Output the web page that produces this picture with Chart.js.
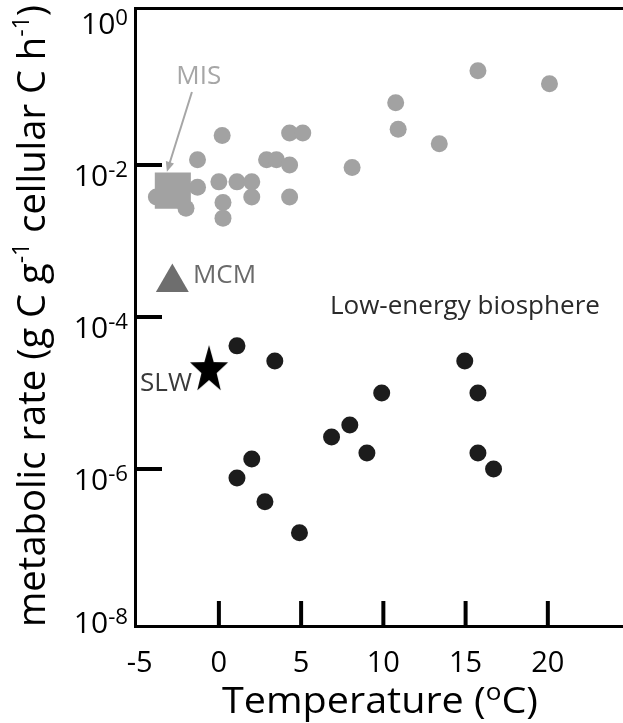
<!DOCTYPE html>
<html>
<head>
<meta charset="utf-8">
<script src="https://cdn.jsdelivr.net/npm/chart.js@4.4.0/dist/chart.umd.min.js"></script>
<style>
  html, body { margin: 0; padding: 0; background: #fff; }
</style>
</head>
<body>
<canvas id="chart" width="623" height="723"></canvas>
<script>
// Temperature (oC) vs metabolic rate (g C g-1 cellular C h-1)
const grayTemp = [0.2, 4.3, 5.1, -1.3, 2.9, 3.5, 4.3, -1.3, -3.8, -2.0, 0.0, 1.1, 2.0, 2.0, 4.3, 0.25, 0.25, 15.75, 20.1, 10.75, 10.9, 13.4, 8.1];
const grayRate = [0.0245, 0.0263, 0.0263, 0.0117, 0.0117, 0.0117, 0.01, 0.0051, 0.0038, 0.0027, 0.006, 0.006, 0.006, 0.0038, 0.0038, 0.0032, 0.002, 0.174, 0.117, 0.066, 0.0295, 0.019, 0.0093];

const blackTemp = [1.1, 3.4, 2.0, 1.1, 2.8, 4.9, 14.95, 9.9, 15.75, 7.96, 6.85, 9.0, 15.75, 16.7];
const blackRate = [4.17e-5, 2.63e-5, 1.35e-6, 7.6e-7, 3.7e-7, 1.45e-7, 2.63e-5, 1e-5, 1e-5, 3.8e-6, 2.63e-6, 1.62e-6, 1.62e-6, 1e-6];

const misTemp = [-2.8];
const misRate = [0.0046];
const mcmTemp = [-2.83];
const mcmRate = [2.84e-4];
const slwTemp = [-0.6];
const slwRate = [2.0e-5];

const xTickLabels = [-5, 0, 5, 10, 15, 20];
const xTickMarks = [0, 5, 10, 15, 20];
const yTickExps = [0, -2, -4, -6, -8];
const yTickMarks = [1e-2, 1e-4, 1e-6];

const FONT = '"Open Sans", "DejaVu Sans", sans-serif';

function pts(xs, ys) {
    return xs.map((x, i) => ({ x: x, y: ys[i] }));
}

// filled five-point star used as the SLW marker
function makeStar(r, sx) {
    const c = document.createElement('canvas');
    c.width = Math.ceil(2 * r * sx) + 2;
    c.height = Math.ceil(2 * r) + 2;
    const g = c.getContext('2d');
    g.translate(c.width / 2, c.height / 2);
    g.beginPath();
    for (let i = 0; i < 10; i++) {
        const a = -Math.PI / 2 + i * Math.PI / 5;
        const rr = i % 2 === 0 ? r : r * 0.4;
        g.lineTo(Math.cos(a) * rr * sx, Math.sin(a) * rr);
    }
    g.closePath();
    g.fillStyle = '#000';
    g.fill();
    return c;
}

// text with superscript parts, parts = [[text, isSup], ...]
function drawRich(ctx, parts, x, y, size, align, targetW, supScale, raise) {
    supScale = supScale || 0.68;
    raise = raise || 0.36;
    let w = 0;
    parts.forEach(p => {
        ctx.font = (p[1] ? size * supScale : size) + 'px ' + FONT;
        w += ctx.measureText(p[0]).width;
    });
    const sx = targetW ? targetW / w : 1;
    ctx.save();
    ctx.translate(x, y);
    ctx.scale(sx, 1);
    let cx = align === 'right' ? -w : (align === 'center' ? -w / 2 : 0);
    ctx.textAlign = 'left';
    ctx.textBaseline = 'alphabetic';
    parts.forEach(p => {
        ctx.font = (p[1] ? size * supScale : size) + 'px ' + FONT;
        ctx.fillText(p[0], cx, p[1] ? -size * raise : 0);
        cx += ctx.measureText(p[0]).width;
    });
    ctx.restore();
}

const decorations = {
    id: 'decorations',
    afterDraw(chart) {
        const ctx = chart.ctx;
        const xs = chart.scales.x, ys = chart.scales.y;
        const area = chart.chartArea;
        ctx.save();

        // top frame line
        ctx.strokeStyle = '#000';
        ctx.lineWidth = 3;
        ctx.beginPath();
        ctx.moveTo(area.left, area.top + 0.5);
        ctx.lineTo(area.right, area.top + 0.5);
        ctx.stroke();

        // inward tick marks
        ctx.lineWidth = 4;
        yTickMarks.forEach(v => {
            const py = ys.getPixelForValue(v);
            ctx.beginPath();
            ctx.moveTo(area.left, py);
            ctx.lineTo(area.left + 27, py);
            ctx.stroke();
        });
        xTickMarks.forEach(v => {
            const px = xs.getPixelForValue(v);
            ctx.beginPath();
            ctx.moveTo(px, area.bottom);
            ctx.lineTo(px, area.bottom - 25);
            ctx.stroke();
        });

        // y tick labels 10^n
        ctx.fillStyle = '#000';
        yTickExps.forEach(e => {
            const py = ys.getPixelForValue(Math.pow(10, e));
            const base = Math.min(py + 21, area.bottom + 7);
            drawRich(ctx, [['10', false], [e === 0 ? '0' : '-' + (-e), true]], area.left - 7, base, 30, 'right', null, 0.74, 0.3);
        });

        // x tick labels
        ctx.font = '29px ' + FONT;
        ctx.textAlign = 'center';
        ctx.textBaseline = 'alphabetic';
        xTickLabels.forEach(v => {
            const px = xs.getPixelForValue(v);
            ctx.fillText(String(v), px + (v === -5 ? 3 : 0), area.bottom + 46);
        });

        // axis titles
        drawRich(ctx, [['Temperature (', false], ['o', true], ['C)', false]],
            380, area.bottom + 87, 36, 'center', 316, 0.66, 0.36);
        ctx.save();
        ctx.translate(45, 316);
        ctx.rotate(-Math.PI / 2);
        drawRich(ctx, [['metabolic rate (g C g', false], ['-1', true], [' cellular C h', false], ['-1', true], [')', false]],
            0, 0, 38, 'center', 622, 0.6, 0.42);
        ctx.restore();

        // annotations
        ctx.font = '26px ' + FONT;
        ctx.textAlign = 'center';
        ctx.textBaseline = 'middle';
        ctx.fillStyle = '#a6a6a6';
        ctx.fillText('MIS', xs.getPixelForValue(-1.22), ys.getPixelForValue(Math.pow(10, -0.842)));

        // arrow to MIS square
        const ax1 = xs.getPixelForValue(-1.64), ay1 = ys.getPixelForValue(Math.pow(10, -1.04));
        const ax2 = xs.getPixelForValue(-3.16), ay2 = ys.getPixelForValue(Math.pow(10, -2.09));
        const ang = Math.atan2(ay2 - ay1, ax2 - ax1);
        ctx.strokeStyle = '#a6a6a6';
        ctx.lineWidth = 2;
        ctx.beginPath();
        ctx.moveTo(ax1, ay1);
        ctx.lineTo(ax2 - Math.cos(ang) * 4, ay2 - Math.sin(ang) * 4);
        ctx.stroke();
        ctx.beginPath();
        ctx.moveTo(ax2, ay2);
        ctx.lineTo(ax2 - Math.cos(ang - 0.4) * 11, ay2 - Math.sin(ang - 0.4) * 11);
        ctx.lineTo(ax2 - Math.cos(ang + 0.4) * 11, ay2 - Math.sin(ang + 0.4) * 11);
        ctx.closePath();
        ctx.fillStyle = '#a6a6a6';
        ctx.fill();

        ctx.textAlign = 'left';
        ctx.fillStyle = '#6a6a6a';
        ctx.fillText('MCM', xs.getPixelForValue(-1.58), ys.getPixelForValue(Math.pow(10, -3.45)));

        ctx.textAlign = 'right';
        ctx.fillStyle = '#3a3a3a';
        ctx.fillText('SLW', xs.getPixelForValue(-1.64), ys.getPixelForValue(Math.pow(10, -4.87)));

        ctx.fillStyle = '#2a2a2a';
        drawRich(ctx, [['Low-energy biosphere', false]], xs.getPixelForValue(6.75), ys.getPixelForValue(Math.pow(10, -3.96)), 26, 'left', 270);

        ctx.restore();
    }
};

const ctx = document.getElementById('chart').getContext('2d');
new Chart(ctx, {
    type: 'scatter',
    data: {
        datasets: [
            { label: 'MIS', data: pts(misTemp, misRate), pointStyle: 'rect', pointRadius: 25.5, backgroundColor: '#a2a2a2', borderWidth: 0 },
            { label: 'MCM', data: pts(mcmTemp, mcmRate), pointStyle: 'triangle', pointRadius: 19, backgroundColor: '#6e6e6e', borderWidth: 0 },
            { label: 'SLW', data: pts(slwTemp, slwRate), pointStyle: makeStar(25, 0.8), pointRadius: 20, backgroundColor: '#000', borderWidth: 0 },
            { label: 'Low-energy', data: pts(blackTemp, blackRate), pointRadius: 8.5, backgroundColor: '#1c1c1c', borderWidth: 0 },
            { label: 'Surface', data: pts(grayTemp, grayRate), pointRadius: 8.5, backgroundColor: '#a2a2a2', borderWidth: 0 }
        ]
    },
    options: {
        responsive: false,
        animation: false,
        events: [],
        layout: { autoPadding: false, padding: { top: 8, left: 0, right: 0, bottom: 0 } },
        plugins: {
            legend: { display: false },
            tooltip: { enabled: false }
        },
        scales: {
            x: {
                type: 'linear',
                min: -5.1,
                max: 24.57,
                grid: { display: false },
                border: { display: true, color: '#000', width: 3 },
                ticks: { display: false },
                afterFit(s) { s.height = 97; }
            },
            y: {
                type: 'logarithmic',
                min: Math.pow(10, -8.066),
                max: Math.pow(10, 0.066),
                grid: { display: false },
                border: { display: true, color: '#000', width: 3 },
                ticks: { display: false },
                afterFit(s) { s.width = 135; }
            }
        }
    },
    plugins: [decorations]
});
</script>
</body>
</html>
